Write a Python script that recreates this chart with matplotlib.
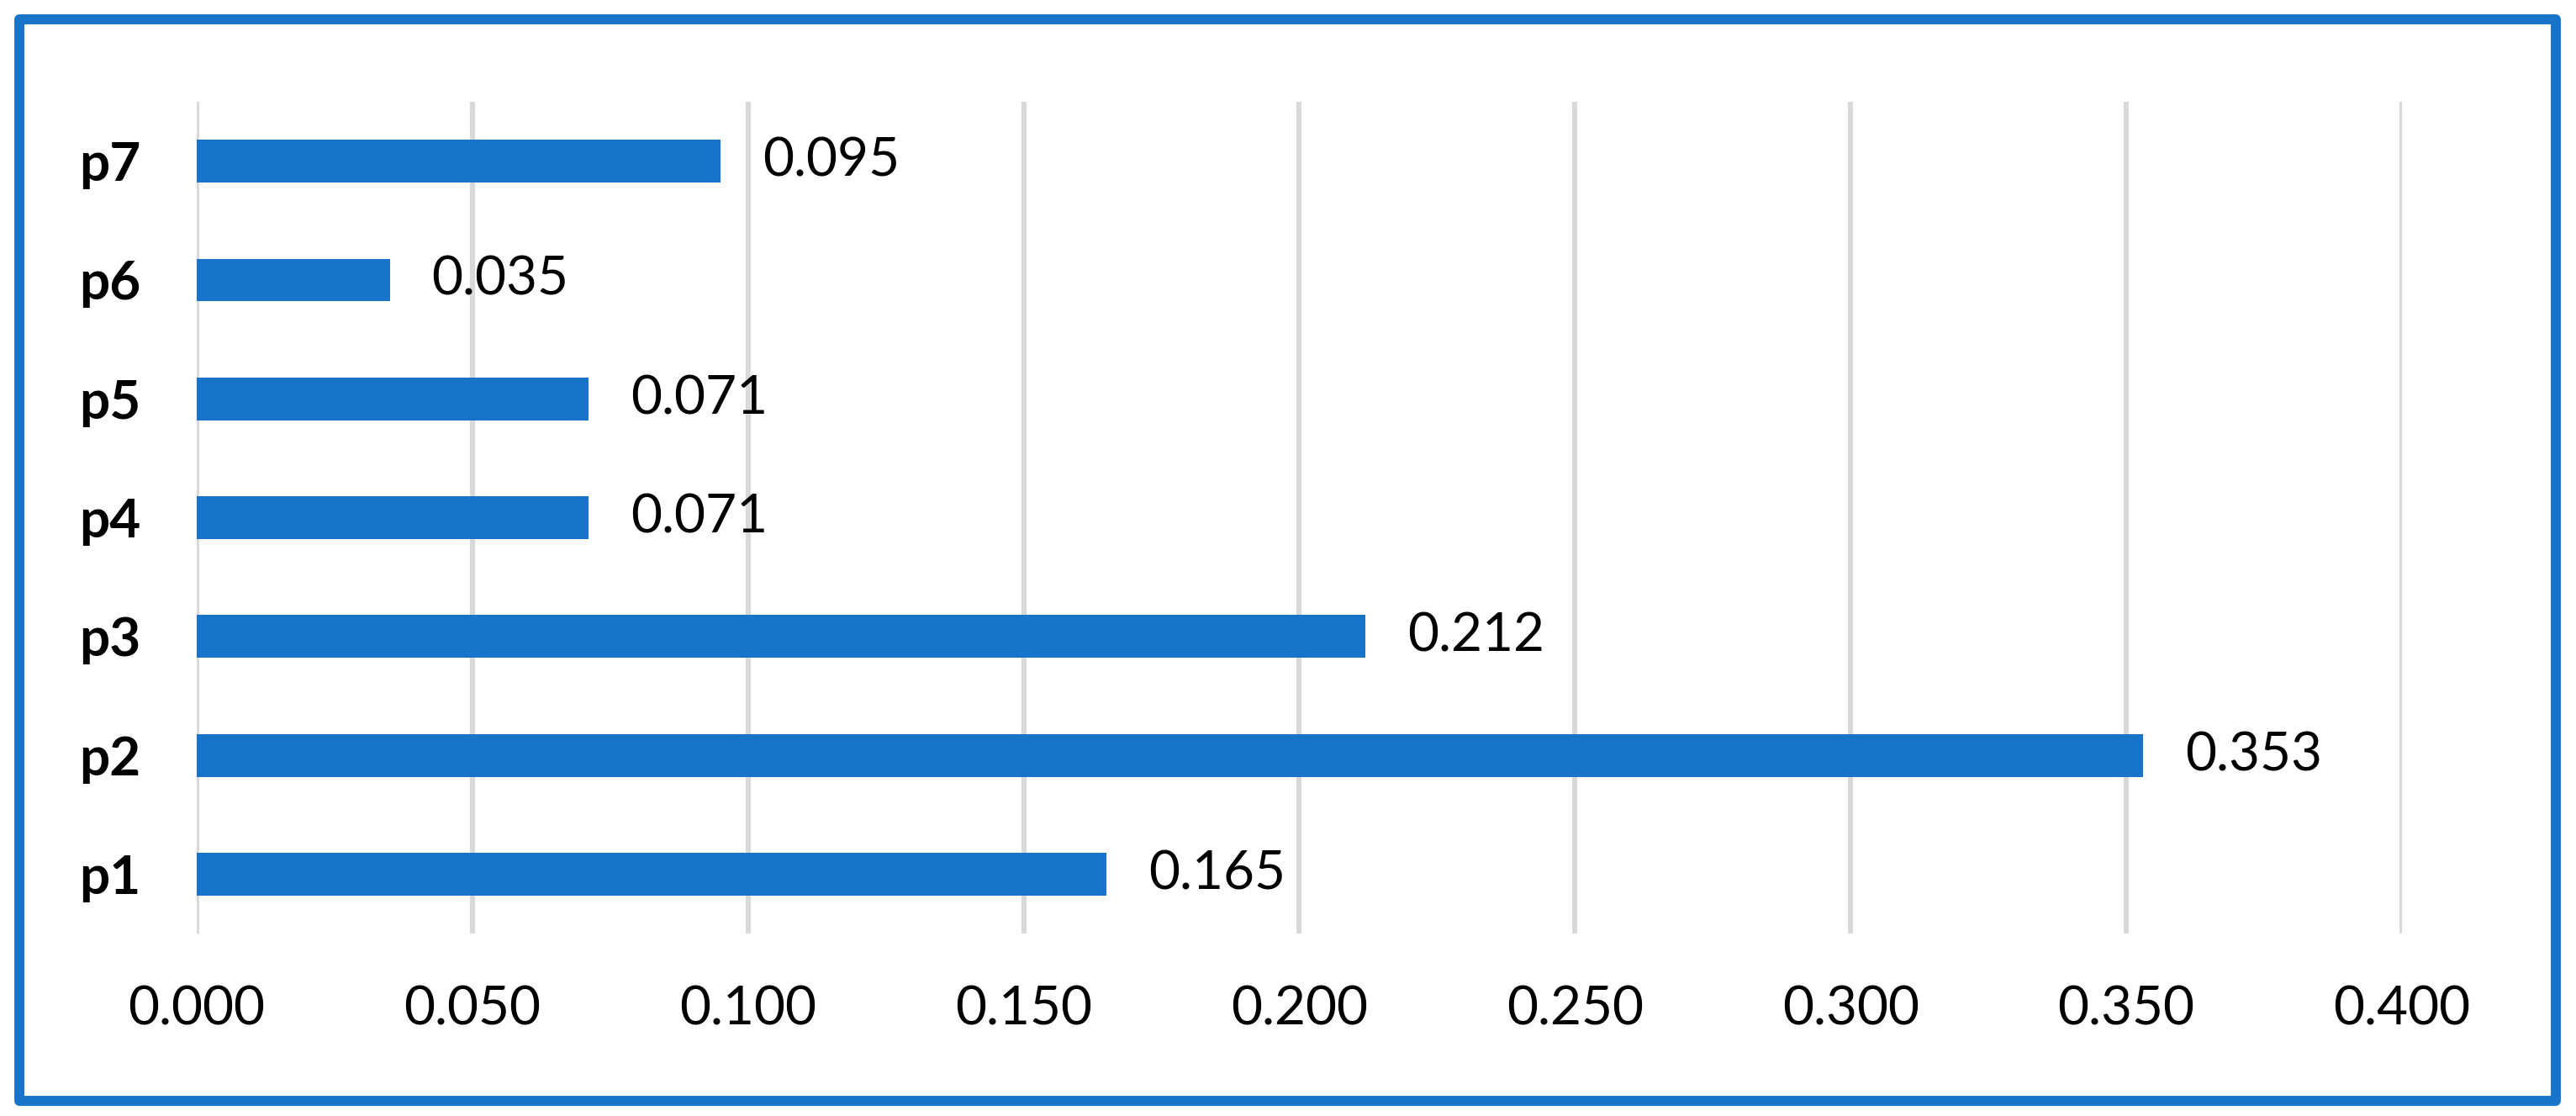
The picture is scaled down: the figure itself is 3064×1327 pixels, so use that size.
import matplotlib
matplotlib.use("Agg")
import matplotlib.pyplot as plt
from matplotlib.patches import Rectangle

plt.rcParams['font.family'] = ['Lato', 'DejaVu Sans']

# data
categories = ["p1", "p2", "p3", "p4", "p5", "p6", "p7"]
values = [0.165, 0.353, 0.212, 0.071, 0.071, 0.035, 0.095]
xticks = [0.0, 0.05, 0.1, 0.15, 0.2, 0.25, 0.3, 0.35, 0.4]

blue = "#1874C8"
grid_grey = "#D9D9D9"

fig = plt.figure(figsize=(15.32, 6.635), dpi=200)
ax = fig.add_axes([0.0764, 0.1635, 0.856, 0.7453])

ypos = range(len(categories))
ax.barh(ypos, values, height=0.36, color=blue, zorder=3)

for y, v in zip(ypos, values):
    ax.annotate("%.3f" % v, (v, y), xytext=(18, 0), textcoords="offset points",
                va="center", ha="left", fontsize=23, color="black")

ax.set_xlim(0, 0.4)
ax.set_ylim(-0.5, len(categories) - 0.5)
ax.set_xticks(xticks)
ax.set_xticklabels(["%.3f" % t for t in xticks], fontsize=23)
ax.set_yticks(list(ypos))
ax.set_yticklabels(categories, fontsize=23, fontweight="bold")
ax.tick_params(axis="x", length=0, pad=22)
ax.tick_params(axis="y", length=0, pad=24)

ax.grid(axis="x", color=grid_grey, linewidth=2.2, zorder=0)
for s in ax.spines.values():
    s.set_visible(False)

# outer frame around the whole chart
frame = Rectangle((23 / 3064, 1 - 1309 / 1327), (3040 - 23) / 3064, (1309 - 23) / 1327,
                  transform=fig.transFigure, fill=False, edgecolor=blue,
                  linewidth=4.3, joinstyle="round")
fig.patches.append(frame)

fig.savefig("out.png", dpi=200, facecolor="white")
